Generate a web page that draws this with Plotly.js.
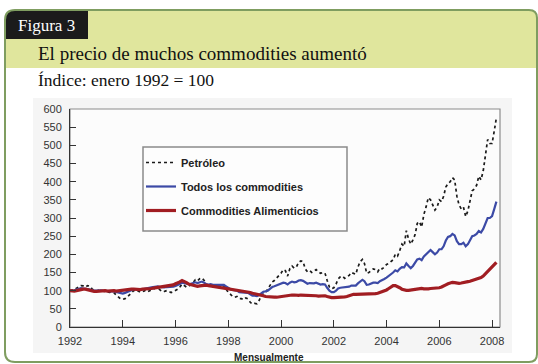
<!DOCTYPE html>
<html>
<head>
<meta charset="utf-8">
<script src="https://cdn.plot.ly/plotly-3.0.1.min.js"></script>
<style>
  html, body { margin: 0; padding: 0; background: #ffffff; }
  #chart { width: 538px; height: 364px; }
</style>
</head>
<body>
<div id="chart"></div>
<script>
// ---- Data (monthly index, January 1992 = 100) ----
const startYear = 1992;
const seriesNames = ["Petróleo", "Todos los commodities", "Commodities Alimenticios"];

const petroleo = [
  // 1992
  100, 101, 103, 107, 111, 114, 113, 110, 114, 112, 105, 100,
  // 1993
  99, 101, 100, 100, 98, 97, 95, 96, 94, 88, 82, 77,
  // 1994
  76, 78, 82, 88, 95, 100, 103, 99, 96, 97, 100, 96,
  // 1995
  100, 102, 104, 108, 107, 101, 97, 98, 100, 98, 95, 97,
  // 1996
  100, 104, 110, 118, 114, 110, 112, 116, 122, 130, 127, 133,
  // 1997
  135, 128, 118, 114, 116, 111, 112, 114, 112, 115, 113, 104,
  // 1998
  95, 90, 84, 82, 84, 78, 78, 75, 80, 77, 68, 63,
  // 1999
  65, 64, 72, 85, 92, 95, 105, 115, 124, 128, 135, 140,
  // 2000
  148, 158, 155, 140, 160, 168, 162, 165, 178, 182, 180, 160,
  // 2001
  152, 155, 150, 154, 158, 152, 148, 150, 148, 128, 110, 105,
  // 2002
  108, 118, 132, 138, 140, 134, 138, 142, 150, 148, 145, 165,
  // 2003
  180, 186, 175, 148, 150, 155, 160, 158, 152, 162, 160, 165,
  // 2004
  172, 175, 180, 185, 200, 195, 210, 228, 222, 265, 242, 228,
  // 2005
  240, 255, 285, 290, 275, 310, 330, 356, 350, 335, 322, 330,
  // 2006
  350, 345, 360, 385, 395, 400, 411, 405, 360, 336, 325, 330,
  // 2007
  304, 320, 345, 375, 380, 390, 415, 405, 430, 470, 516, 505,
  // 2008
  505, 540, 576
];

const todos = [
  // 1992
  100, 100, 101, 103, 105, 107, 106, 104, 104, 103, 101, 100,
  // 1993
  100, 101, 101, 100, 99, 99, 98, 98, 98, 96, 94, 92,
  // 1994
  92, 94, 96, 99, 102, 104, 104, 103, 103, 104, 106, 106,
  // 1995
  108, 109, 110, 112, 112, 110, 109, 109, 110, 110, 110, 111,
  // 1996
  113, 115, 118, 122, 120, 118, 118, 119, 120, 123, 121, 124,
  // 1997
  125, 122, 118, 117, 118, 116, 116, 116, 115, 116, 116, 112,
  // 1998
  107, 104, 102, 101, 100, 96, 96, 94, 95, 94, 90, 86,
  // 1999
  86, 85, 88, 94, 97, 98, 100, 105, 110, 112, 115, 117,
  // 2000
  120, 122, 121, 117, 122, 125, 123, 124, 128, 129, 127, 122,
  // 2001
  119, 121, 120, 120, 122, 119, 117, 118, 117, 108, 100, 96,
  // 2002
  96, 100, 106, 108, 109, 108, 110, 111, 114, 114, 114, 120,
  // 2003
  126, 130, 126, 116, 117, 120, 122, 122, 121, 126, 128, 132,
  // 2004
  136, 140, 146, 150, 156, 153, 160, 165, 164, 175, 168, 162,
  // 2005
  168, 176, 186, 188, 184, 194, 200, 208, 212, 206, 200, 205,
  // 2006
  214, 214, 222, 238, 248, 250, 256, 252, 236, 228, 228, 232,
  // 2007
  222, 228, 240, 250, 252, 256, 264, 260, 270, 285, 300, 300,
  // 2008
  305, 325, 345
];

const alimenticios = [
  // 1992
  100, 99, 99, 100, 102, 103, 104, 104, 102, 100, 99, 98,
  // 1993
  98, 99, 99, 99, 100, 99, 100, 100, 100, 99, 100, 101,
  // 1994
  101, 101, 102, 103, 104, 104, 103, 103, 103, 104, 104, 105,
  // 1995
  106, 106, 107, 108, 109, 110, 111, 111, 112, 113, 114, 116,
  // 1996
  119, 121, 124, 128, 126, 122, 118, 116, 114, 112, 112, 113,
  // 1997
  114, 114, 115, 114, 113, 112, 111, 111, 110, 110, 109, 108,
  // 1998
  106, 104, 103, 102, 101, 100, 99, 98, 97, 96, 95, 93,
  // 1999
  92, 90, 89, 88, 86, 84, 83, 82, 82, 82, 82, 83,
  // 2000
  84, 84, 85, 86, 87, 88, 88, 87, 87, 88, 88, 88,
  // 2001
  87, 86, 86, 86, 86, 85, 86, 87, 86, 84, 82, 81,
  // 2002
  81, 81, 82, 82, 82, 83, 84, 86, 89, 90, 90, 90,
  // 2003
  91, 92, 91, 90, 90, 91, 91, 92, 93, 95, 96, 98,
  // 2004
  102, 106, 110, 114, 114, 112, 108, 104, 102, 101, 101, 102,
  // 2005
  101, 102, 104, 106, 106, 105, 104, 105, 106, 106, 106, 107,
  // 2006
  108, 110, 112, 116, 119, 121, 123, 122, 120, 120, 121, 123,
  // 2007
  124, 125, 126, 128, 130, 131, 133, 136, 140, 146, 152, 158,
  // 2008
  166, 172, 178
];

const yTicks = [0, 50, 100, 150, 200, 250, 300, 350, 400, 450, 500, 550, 600];

// month labels (first day of each month from Jan 1992)
function monthDates(n) {
  const out = [];
  for (let i = 0; i < n; i++) {
    const y = startYear + Math.floor(i / 12);
    const m = (i % 12) + 1;
    out.push(y + "-" + (m < 10 ? "0" + m : m) + "-01");
  }
  return out;
}

// ---- Layout helpers (pixel -> paper) ----
const W = 538, H = 364;
const M = { l: 70, r: 38, t: 109, b: 37 };
const PW = W - M.l - M.r, PH = H - M.t - M.b;
const fx = px => (px - M.l) / PW;
const fy = py => (H - M.b - py) / PH;
function P(px, py) { return fx(px).toFixed(5) + "," + fy(py).toFixed(5); }

function roundRect(x0, y0, x1, y1, rTL, rTR, rBR, rBL) {
  let d = "M" + P(x0, y0 + rTL);
  d += " Q" + P(x0, y0) + " " + P(x0 + rTL, y0);
  d += " L" + P(x1 - rTR, y0);
  d += " Q" + P(x1, y0) + " " + P(x1, y0 + rTR);
  d += " L" + P(x1, y1 - rBR);
  d += " Q" + P(x1, y1) + " " + P(x1 - rBR, y1);
  d += " L" + P(x0 + rBL, y1);
  d += " Q" + P(x0, y1) + " " + P(x0, y1 - rBL);
  d += " Z";
  return d;
}

const traces = [
  {
    x: monthDates(petroleo.length), y: petroleo, name: seriesNames[0],
    type: "scatter", mode: "lines", legendgroup: "a",
    line: { color: "#1a1a1a", width: 1.7, dash: "dot" }
  },
  {
    x: monthDates(todos.length), y: todos, name: seriesNames[1],
    type: "scatter", mode: "lines", legendgroup: "b",
    line: { color: "#3c4aa6", width: 2.2 }
  },
  {
    x: monthDates(alimenticios.length), y: alimenticios, name: seriesNames[2],
    type: "scatter", mode: "lines", legendgroup: "c",
    line: { color: "#a11d22", width: 3.2 }
  }
];

const tickFont = { family: "Liberation Sans, Arial, sans-serif", size: 11, color: "#333" };

const layout = {
  width: W, height: H,
  margin: M,
  paper_bgcolor: "#ffffff",
  plot_bgcolor: "rgba(0,0,0,0)",
  showlegend: true,
  legend: {
    x: fx(141), y: fy(148), xanchor: "left", yanchor: "top",
    bgcolor: "rgba(0,0,0,0)", borderwidth: 0,
    font: { family: "Liberation Sans, Arial, sans-serif", size: 11, color: "#222", weight: "bold" },
    tracegroupgap: 5, traceorder: "grouped", itemwidth: 30
  },
  xaxis: {
    type: "date",
    range: ["1992-01-01", "2008-04-20"],
    tick0: "1992-01-01", dtick: "M24", tickformat: "%Y",
    ticks: "inside", ticklen: 7, tickcolor: "#333", tickwidth: 1,
    ticklabelstandoff: 4,
    showline: true, linecolor: "#333", linewidth: 1,
    showgrid: false, zeroline: false,
    tickfont: tickFont
  },
  yaxis: {
    range: [0, 600],
    tickvals: yTicks, ticktext: yTicks.map(String),
    ticks: "inside", ticklen: 6, tickcolor: "#333", tickwidth: 1,
    ticklabelstandoff: 5,
    showline: true, linecolor: "#333", linewidth: 1,
    showgrid: false, zeroline: false,
    tickfont: tickFont
  },
  shapes: [
    // header band
    { type: "path", xref: "paper", yref: "paper", layer: "below",
      path: roundRect(5, 10, 537, 68, 10, 8, 0, 0),
      fillcolor: "#e0e69d", line: { width: 0 } },
    // "Figura 3" tab
    { type: "path", xref: "paper", yref: "paper", layer: "below",
      path: roundRect(5, 10, 88, 39, 10, 0, 0, 0),
      fillcolor: "#1b1b1b", line: { width: 0 } },
    // chart background
    { type: "rect", xref: "paper", yref: "paper", layer: "below",
      x0: fx(33), x1: fx(512), y0: fy(353), y1: fy(98),
      fillcolor: "#f5f5f5", line: { width: 0 } },
    // plot area background
    { type: "rect", xref: "paper", yref: "paper", layer: "below",
      x0: 0, x1: 1, y0: 0, y1: 1,
      fillcolor: "#fcfcfc", line: { color: "#8c8c8c", width: 1.2 } },
    // outer green frame
    { type: "path", xref: "paper", yref: "paper", layer: "below",
      path: roundRect(5, 10, 537, 362, 10, 8, 8, 10),
      fillcolor: "rgba(0,0,0,0)", line: { color: "#7f9d60", width: 2 } },
    // legend box
    { type: "rect", xref: "paper", yref: "paper", layer: "below",
      x0: fx(143), x1: fx(347), y0: fy(231), y1: fy(147),
      fillcolor: "#fdfdfd", line: { color: "#8a8a8a", width: 1.5 } }
  ],
  annotations: [
    { text: "Figura 3", xref: "paper", yref: "paper", x: fx(16), y: fy(26),
      xanchor: "left", yanchor: "middle", showarrow: false,
      font: { family: "Liberation Serif, serif", size: 17, color: "#ffffff" } },
    { text: "El precio de muchos commodities aumentó", xref: "paper", yref: "paper",
      x: fx(36), y: fy(53), xanchor: "left", yanchor: "middle", showarrow: false,
      font: { family: "Liberation Serif, serif", size: 19, color: "#111" } },
    { text: "Índice: enero 1992 = 100", xref: "paper", yref: "paper",
      x: fx(36), y: fy(80), xanchor: "left", yanchor: "middle", showarrow: false,
      font: { family: "Liberation Serif, serif", size: 17.5, color: "#111" } },
    { text: "Mensualmente", xref: "paper", yref: "paper",
      x: fx(269), y: fy(357), xanchor: "center", yanchor: "middle", showarrow: false,
      font: { family: "Liberation Sans, Arial, sans-serif", size: 10, color: "#222", weight: "bold" } }
  ]
};

Plotly.newPlot("chart", traces, layout, { displayModeBar: false, staticPlot: true });
</script>
</body>
</html>
